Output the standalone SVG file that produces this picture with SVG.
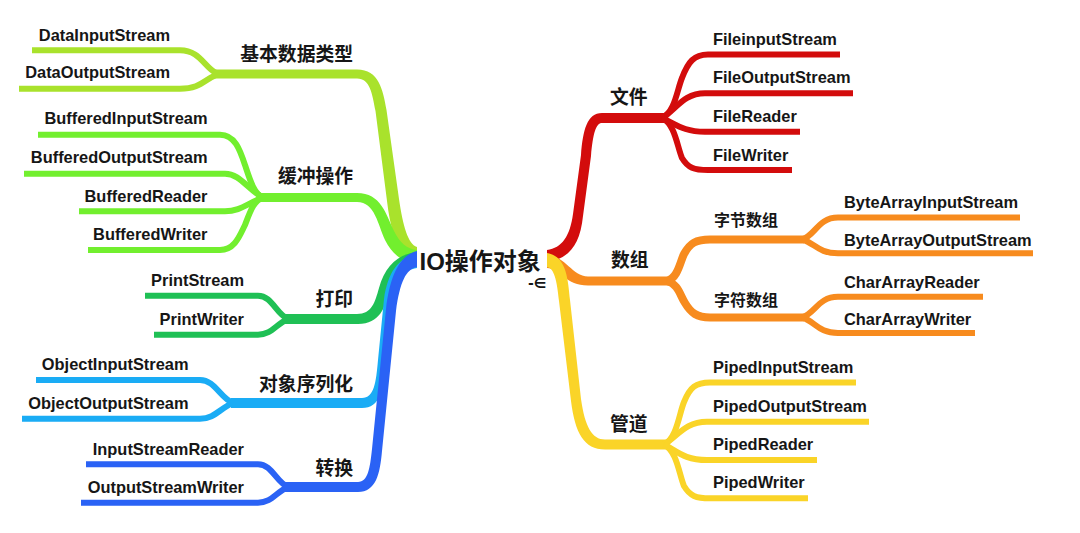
<svg xmlns="http://www.w3.org/2000/svg" width="1080" height="533" viewBox="0 0 1080 533">
<style>
.lf{fill:none;stroke-width:6;stroke-linecap:butt;stroke-linejoin:round}
.sb{fill:none;stroke-width:8;stroke-linecap:butt;stroke-linejoin:round}
.t{font-family:"Liberation Sans","Noto Sans CJK SC",Arial,sans-serif;font-weight:bold;font-size:16.4px;fill:#161616}
.c{font-family:"Noto Sans CJK SC","Liberation Sans",sans-serif;font-weight:bold;font-size:18.8px;fill:#161616}
.s{font-size:16px}
.r{font-family:"Liberation Sans","Noto Sans CJK SC",sans-serif;font-weight:bold;font-size:24px;fill:#161616}
.e{text-anchor:end}
.yg{stroke:#a9e22c}.yg-f{fill:#a9e22c}
.lm{stroke:#72ef2e}.lm-f{fill:#72ef2e}
.gr{stroke:#1fc055}.gr-f{fill:#1fc055}
.lb{stroke:#1aacf5}.lb-f{fill:#1aacf5}
.bl{stroke:#2a62f5}.bl-f{fill:#2a62f5}
.rd{stroke:#d30c0c}.rd-f{fill:#d30c0c}
.or{stroke:#f78b1e}.or-f{fill:#f78b1e}
.ye{stroke:#fad428}.ye-f{fill:#fad428}
</style>
<rect width="1080" height="533" fill="#fff"/>
<g id="connectors">
  <!-- left leaves -->
  <path class="lf yg" d="M32 50.3 L180 50.3 C200 50.3 204 67 216 73"/>
  <path class="lf yg" d="M19 88.8 L180 88.8 C200 88.8 204 80 216 75"/>
  <path class="lf lm" d="M38 134.7 L220 134.7 C235 134.7 240 150 245 165 C250 180 254 194 263 197.5"/>
  <path class="lf lm" d="M24 173.7 L225 173.7 C240 173.7 248 190 263 197.5"/>
  <path class="lf lm" d="M79 211.3 L225 211.3 C240 211.3 248 203 263 197.5"/>
  <path class="lf lm" d="M88 250 L220 250 C235 250 240 235 245 225 C250 212 254 200 263 197.5"/>
  <path class="lf gr" d="M145 295.7 L258 295.7 C272 295.7 276 314 288 319"/>
  <path class="lf gr" d="M154 334.7 L258 334.7 C272 334.7 276 324 288 319"/>
  <path class="lf lb" d="M36 380 L200 380 C215 380 220 398 233 403"/>
  <path class="lf lb" d="M22 418.7 L200 418.7 C215 418.7 220 408 233 403"/>
  <path class="lf bl" d="M86 464.2 L258 464.2 C272 464.2 276 482 288 487"/>
  <path class="lf bl" d="M81 502.7 L258 502.7 C272 502.7 276 492 288 487"/>
  <!-- left main branches -->
  <path class="yg-f" d="M214 69.5 L357 69.5 C379 69.5 383 90 386.5 110 L399 199 C403 226 408 244 417 247 L417 263 C400 257 391 236 387 201 L375.5 111 C372 93 370 78.5 357 78.5 L214 78.5 Z"/>
  <path class="lm-f" d="M260 193 L357 193 C381 193 386 214 394 231 C400 243 407 249 417 250 L417 264 C402 262 392 254 385 240 C378 225 375 202 357 202 L260 202 Z"/>
  <path class="gr-f" d="M285 314 L357 314 C372 314 375 302 379 288 C385 266 398 254 417 252 L417 266 C405 268 395 276 389 292 C385 307 380 324 358 324 L285 324 Z"/>
  <path class="lb-f" d="M231 398 L362 398 C374 398 376 383 378 360 L384 299 C388 272 398 258 417 254 L417 268 C403 270 396 280 393 301 L387 361 C384 390 380 408 362 408 L231 408 Z"/>
  <path class="bl-f" d="M285 482 L358 482 C368 482 370 468 372 449 L386 309 C390 275 400 255 417 251 L417 267 C406 269 400 282 396 311 L382 451 C380 474 376 492 358 492 L285 492 Z"/>
  <!-- right main branches -->
  <path class="rd-f" d="M664 113 L602 113 C587 113 583 130 581 155 L573 214 C570 236 562 248 547 250 L547 262 C568 259 580 246 583 216 L591 156 C593 133 596 123 602 123 L664 123 Z"/>
  <path class="or-f" d="M547 255 C566 256 572 276.5 588 276.5 L669 276.5 L669 285.5 L588 285.5 C566 285.5 560 269 547 268 Z"/>
  <path class="ye-f" d="M547 253 C566 256 568 278 570 300 L581 399 C585 427 592 439.5 605 439.5 L666 439.5 L666 449.5 L605 449.5 C584 449.5 575 433 571 401 L559 301 C557 280 554 268 547 267 Z"/>
  <!-- array sub-branches -->
  <path class="sb or" d="M667 281 C678 278 680 262 684 254 C690 243 696 239.5 710 239.5 L804 239.5"/>
  <path class="sb or" d="M667 281 C678 284 680 295 685 303 C691 313 697 317.5 710 317.5 L804 317.5"/>
  <!-- right leaves -->
  <path class="lf rd" d="M662 118 C675 112 677 90 682 78 C688 62 694 54.5 708 54.5 L840 54.5"/>
  <path class="lf rd" d="M662 118 C676 110 683 93.3 705 93.3 L853 93.3"/>
  <path class="lf rd" d="M662 118 C676 124 683 131.7 705 131.7 L800 131.7"/>
  <path class="lf rd" d="M662 118 C675 124 677 146 682 158 C688 168 694 170 708 170 L792 170"/>
  <path class="lf or" d="M802 239.5 C815 236 818 217.5 838 217.5 L1020 217.5"/>
  <path class="lf or" d="M802 239.5 C815 243 818 253.3 838 253.3 L1033 253.3"/>
  <path class="lf or" d="M802 317.5 C815 314 818 296.8 838 296.8 L983 296.8"/>
  <path class="lf or" d="M802 317.5 C815 321 818 333 838 333 L975 333"/>
  <path class="lf ye" d="M664 444.5 C677 438 679 414 684 402 C690 387 696 382.5 710 382.5 L856 382.5"/>
  <path class="lf ye" d="M664 444.5 C678 436 685 421.7 707 421.7 L869 421.7"/>
  <path class="lf ye" d="M664 444.5 C678 452 685 460 707 460 L817 460"/>
  <path class="lf ye" d="M664 444.5 C677 451 679 474 684 486 C690 496 696 498.3 710 498.3 L808 498.3"/>
</g>
<g id="root"><text class="r" x="419.5" y="269.5">IO操作对象</text><text x="528" y="288" font-family="DejaVu Sans,sans-serif" font-size="14" font-weight="bold" fill="#161616">-∈</text></g>
<g id="n-basic"><text class="c e" x="353" y="60.7">基本数据类型</text></g>
<g id="n-DataInputStream"><text class="t e" x="170" y="40.5">DataInputStream</text></g>
<g id="n-DataOutputStream"><text class="t e" x="170" y="78.3">DataOutputStream</text></g>
<g id="n-buffer"><text class="c e" x="353" y="183">缓冲操作</text></g>
<g id="n-BufferedInputStream"><text class="t e" x="207.5" y="124.3">BufferedInputStream</text></g>
<g id="n-BufferedOutputStream"><text class="t e" x="207.5" y="163.3">BufferedOutputStream</text></g>
<g id="n-BufferedReader"><text class="t e" x="207.5" y="201.7">BufferedReader</text></g>
<g id="n-BufferedWriter"><text class="t e" x="207.5" y="240">BufferedWriter</text></g>
<g id="n-print"><text class="c e" x="353" y="306">打印</text></g>
<g id="n-PrintStream"><text class="t e" x="244" y="286">PrintStream</text></g>
<g id="n-PrintWriter"><text class="t e" x="244" y="325">PrintWriter</text></g>
<g id="n-serial"><text class="c e" x="353" y="390.5">对象序列化</text></g>
<g id="n-ObjectInputStream"><text class="t e" x="188.5" y="370">ObjectInputStream</text></g>
<g id="n-ObjectOutputStream"><text class="t e" x="188.5" y="409">ObjectOutputStream</text></g>
<g id="n-convert"><text class="c e" x="353" y="474.5">转换</text></g>
<g id="n-InputStreamReader"><text class="t e" x="244" y="455">InputStreamReader</text></g>
<g id="n-OutputStreamWriter"><text class="t e" x="244" y="493.3">OutputStreamWriter</text></g>
<g id="n-file"><text class="c" x="610" y="104">文件</text></g>
<g id="n-FileinputStream"><text class="t" x="713" y="45">FileinputStream</text></g>
<g id="n-FileOutputStream"><text class="t" x="713" y="83.3">FileOutputStream</text></g>
<g id="n-FileReader"><text class="t" x="713" y="121.7">FileReader</text></g>
<g id="n-FileWriter"><text class="t" x="713" y="160.7">FileWriter</text></g>
<g id="n-array"><text class="c" x="611" y="267">数组</text></g>
<g id="n-bytearray"><text class="c s" x="714" y="226">字节数组</text></g>
<g id="n-ByteArrayInputStream"><text class="t" x="844" y="208.3">ByteArrayInputStream</text></g>
<g id="n-ByteArrayOutputStream"><text class="t" x="844" y="246">ByteArrayOutputStream</text></g>
<g id="n-chararray"><text class="c s" x="714" y="306">字符数组</text></g>
<g id="n-CharArrayReader"><text class="t" x="844" y="288.3">CharArrayReader</text></g>
<g id="n-CharArrayWriter"><text class="t" x="844" y="325">CharArrayWriter</text></g>
<g id="n-pipe"><text class="c" x="610" y="431">管道</text></g>
<g id="n-PipedInputStream"><text class="t" x="713" y="373.3">PipedInputStream</text></g>
<g id="n-PipedOutputStream"><text class="t" x="713" y="411.7">PipedOutputStream</text></g>
<g id="n-PipedReader"><text class="t" x="713" y="450">PipedReader</text></g>
<g id="n-PipedWriter"><text class="t" x="713" y="488.3">PipedWriter</text></g>
</svg>
